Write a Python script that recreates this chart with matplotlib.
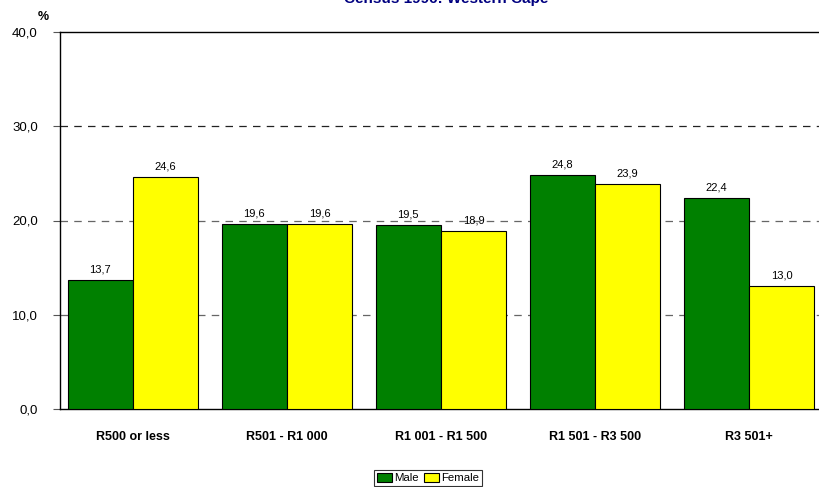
import matplotlib
matplotlib.use("Agg")
import matplotlib.pyplot as plt
import numpy as np

categories = ["R500 or less", "R501 - R1 000", "R1 001 - R1 500", "R1 501 - R3 500", "R3 501+"]
male = [13.7, 19.6, 19.5, 24.8, 22.4]
female = [24.6, 19.6, 18.9, 23.9, 13.0]
y_ticks = [0, 10, 20, 30, 40]

plt.rcParams["font.family"] = ["Liberation Sans", "DejaVu Sans"]

W, H = 819, 487
fig = plt.figure(figsize=(W / 100, H / 100), dpi=100)
ax = fig.add_axes([60 / W, (H - 409) / H, 770 / W, (409 - 32) / H])

x = np.arange(len(categories))
bw = 0.425
b1 = ax.bar(x - bw / 2, male, bw, color="#008000", edgecolor="black", linewidth=0.8, label="Male", zorder=3)
b2 = ax.bar(x + bw / 2, female, bw, color="#ffff00", edgecolor="black", linewidth=0.8, label="Female", zorder=3)

for bars, vals in ((b1, male), (b2, female)):
    for rect, v in zip(bars, vals):
        ax.text(rect.get_x() + rect.get_width() / 2, v + 0.6, f"{v:.1f}".replace(".", ","),
                ha="center", va="bottom", fontsize=8, zorder=4)

ax.set_xlim(-0.474, len(categories) - 0.474)
ax.set_ylim(0, 40)
ax.set_yticks(y_ticks)
ax.set_yticklabels([f"{t:.1f}".replace(".", ",") for t in y_ticks], fontsize=9.5)
ax.set_xticks(x)
ax.set_xticklabels(categories, fontsize=9, fontweight="bold")
ax.tick_params(axis="x", length=0, pad=16)
ax.tick_params(axis="y", length=5, direction="out", color="#555555", pad=11)

for t, c in ((10, "#666666"), (20, "#666666"), (30, "#222222")):
    ax.axhline(t, color=c, linestyle=(0, (6, 5)), linewidth=0.9, zorder=1)

for s in ("left", "top", "bottom"):
    ax.spines[s].set_color("black")
    ax.spines[s].set_linewidth(1.0)
ax.spines["right"].set_visible(False)

fig.text(38 / W, 1 - 17 / H, "%", fontsize=9, fontweight="bold", ha="left", va="center")
fig.text(446 / W, 1 + 1 / H, "Census 1996: Western Cape", fontsize=11, fontweight="bold",
         color="#000080", ha="center", va="center")

leg = ax.legend(loc="upper center", bbox_to_anchor=((428 - 60) / 770, -(470 - 409) / 377), ncol=2,
                fontsize=8.2, frameon=True, fancybox=False, edgecolor="black",
                handlelength=1.3, handleheight=0.8, handletextpad=0.15, columnspacing=0.5,
                borderpad=0.25, borderaxespad=0)
leg.get_frame().set_linewidth(0.8)

fig.savefig("out.png", dpi=100)
